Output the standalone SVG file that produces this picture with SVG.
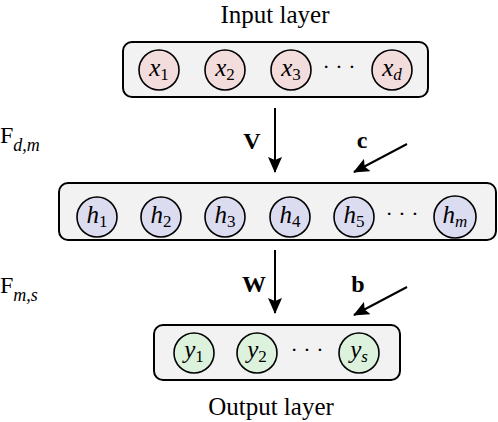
<svg xmlns="http://www.w3.org/2000/svg" width="498" height="422" viewBox="0 0 498 422">
<defs>
<style>
.box{fill:#f2f2f2;stroke:#000;stroke-width:2}
.n{stroke:#000;stroke-width:1.6}
.in{fill:#f3dcdc}
.hid{fill:#dcdcf0}
.out{fill:#dcf2dc}
.m{font-family:"Liberation Serif",serif;font-style:italic;font-size:25px;text-anchor:middle}
.s{font-style:normal;font-size:17px}
.si{font-style:italic;font-size:17px}
.dots{font-family:"Liberation Serif",serif;font-size:22px;text-anchor:middle}
.lbl{font-family:"Liberation Serif",serif;font-size:25px;text-anchor:middle}
.bold{font-family:"Liberation Serif",serif;font-weight:bold;font-size:24px;text-anchor:middle}
.F{font-family:"Liberation Serif",serif;font-size:24px}
.Fs{font-style:italic;font-size:18px}
.conn{stroke:#000;stroke-width:2;fill:none}
</style>
<marker id="ah" viewBox="0 0 16 14" refX="15" refY="7" markerWidth="16" markerHeight="14" markerUnits="userSpaceOnUse" orient="auto">
<path d="M0,0 L16,7 L0,14 L3,7 Z" fill="#000"/>
</marker>
</defs>
<rect width="498" height="422" fill="#fff"/>

<text class="lbl" x="275" y="23">Input layer</text>
<text class="lbl" x="271" y="415">Output layer</text>

<text class="F" x="0" y="143">F<tspan class="Fs" dy="8">d,m</tspan></text>
<text class="F" x="0" y="293">F<tspan class="Fs" dy="8">m,s</tspan></text>

<g id="input-layer">
<rect class="box" x="123" y="42" width="305" height="55" rx="9"/>
<g id="x1"><circle class="n in" cx="159" cy="70" r="20"/><text class="m" x="159" y="76">x<tspan class="s" dy="4">1</tspan></text></g>
<g id="x2"><circle class="n in" cx="225" cy="70" r="20"/><text class="m" x="225" y="76">x<tspan class="s" dy="4">2</tspan></text></g>
<g id="x3"><circle class="n in" cx="291" cy="70" r="20"/><text class="m" x="291" y="76">x<tspan class="s" dy="4">3</tspan></text></g>
<text class="dots" x="339" y="74">· · ·</text>
<g id="xd"><circle class="n in" cx="392" cy="70" r="20"/><text class="m" x="392" y="76">x<tspan class="si" dy="4">d</tspan></text></g>
</g>

<g id="hidden-layer">
<rect class="box" x="59" y="183" width="437" height="57" rx="9"/>
<g id="h1"><circle class="n hid" cx="97" cy="217" r="20"/><text class="m" x="97" y="223">h<tspan class="s" dy="4">1</tspan></text></g>
<g id="h2"><circle class="n hid" cx="161" cy="217" r="20"/><text class="m" x="161" y="223">h<tspan class="s" dy="4">2</tspan></text></g>
<g id="h3"><circle class="n hid" cx="225" cy="217" r="20"/><text class="m" x="225" y="223">h<tspan class="s" dy="4">3</tspan></text></g>
<g id="h4"><circle class="n hid" cx="290" cy="217" r="20"/><text class="m" x="290" y="223">h<tspan class="s" dy="4">4</tspan></text></g>
<g id="h5"><circle class="n hid" cx="354" cy="217" r="20"/><text class="m" x="354" y="223">h<tspan class="s" dy="4">5</tspan></text></g>
<text class="dots" x="402" y="221">· · ·</text>
<g id="hm"><circle class="n hid" cx="455" cy="217" r="21"/><text class="m" x="455" y="223">h<tspan class="si" dy="4">m</tspan></text></g>
</g>

<g id="output-layer">
<rect class="box" x="154" y="325" width="246" height="55" rx="9"/>
<g id="y1"><circle class="n out" cx="194" cy="353" r="20"/><text class="m" x="194" y="358">y<tspan class="s" dy="4">1</tspan></text></g>
<g id="y2"><circle class="n out" cx="257" cy="353" r="20"/><text class="m" x="257" y="358">y<tspan class="s" dy="4">2</tspan></text></g>
<text class="dots" x="307" y="357">· · ·</text>
<g id="ys"><circle class="n out" cx="359" cy="353" r="20"/><text class="m" x="359" y="358">y<tspan class="si" dy="4">s</tspan></text></g>
</g>

<g id="connectors">
<line class="conn" x1="275" y1="108" x2="275" y2="172" marker-end="url(#ah)"/>
<line class="conn" x1="407" y1="144" x2="354" y2="172" marker-end="url(#ah)"/>
<line class="conn" x1="275" y1="250" x2="275" y2="313" marker-end="url(#ah)"/>
<line class="conn" x1="407" y1="287" x2="354" y2="315" marker-end="url(#ah)"/>
</g>

<text class="bold" x="252" y="149">V</text>
<text class="bold" x="362" y="148">c</text>
<text class="bold" x="254" y="292">W</text>
<text class="bold" x="358" y="292">b</text>
</svg>
